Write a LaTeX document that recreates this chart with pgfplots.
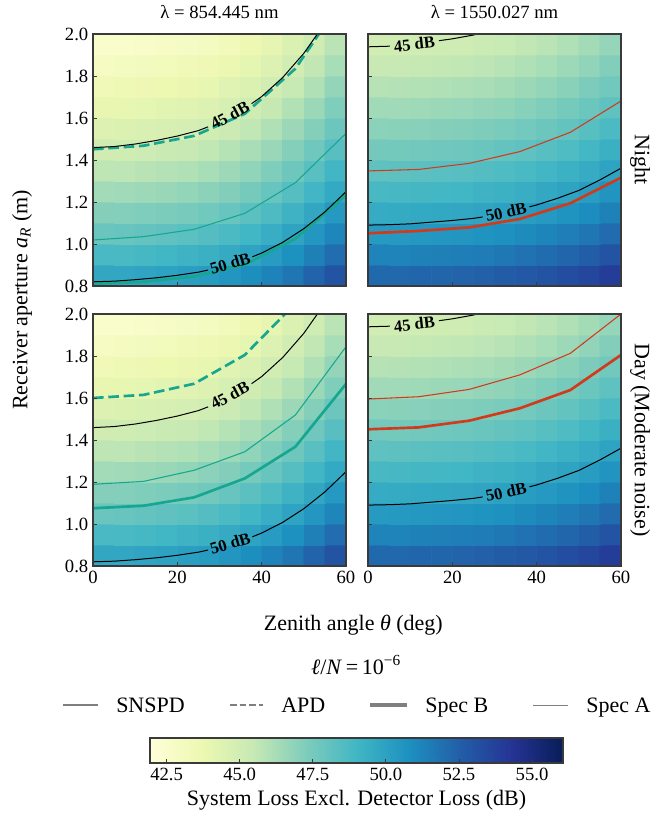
\documentclass[border=0pt]{standalone}
\usepackage{fontspec}
\setmainfont{Liberation Serif}
\usepackage{pgfplots}
\pgfplotsset{compat=1.18}
\usepackage{pgfplotstable}

\definecolor{specteal}{HTML}{17A68F}
\definecolor{specred}{HTML}{D13A1B}
\definecolor{frame}{HTML}{3A3A3A}
\definecolor{leggray}{HTML}{7F7F7F}

\newcommand\tickfont{\fontsize{14}{16}\selectfont}
\newcommand\labfont{\fontsize{16.5}{19}\selectfont}

% system loss excl. detector loss (dB), cells of 5 deg x 0.1 m
\pgfplotstableread[row sep=\\]{x y c\\
2.5 0.85 49.70\\ 7.5 0.85 49.74\\ 12.5 0.85 49.84\\ 17.5 0.85 49.95\\ 22.5 0.85 50.08\\ 27.5 0.85 50.26\\ 32.5 0.85 50.51\\ 37.5 0.85 50.83\\ 42.5 0.85 51.24\\ 47.5 0.85 51.74\\ 52.5 0.85 52.32\\ 57.5 0.85 52.99\\
2.5 0.95 48.74\\ 7.5 0.95 48.78\\ 12.5 0.95 48.88\\ 17.5 0.95 48.99\\ 22.5 0.95 49.12\\ 27.5 0.95 49.30\\ 32.5 0.95 49.55\\ 37.5 0.95 49.87\\ 42.5 0.95 50.28\\ 47.5 0.95 50.78\\ 52.5 0.95 51.36\\ 57.5 0.95 52.03\\
2.5 1.05 47.87\\ 7.5 1.05 47.91\\ 12.5 1.05 48.01\\ 17.5 1.05 48.12\\ 22.5 1.05 48.25\\ 27.5 1.05 48.43\\ 32.5 1.05 48.68\\ 37.5 1.05 49.00\\ 42.5 1.05 49.41\\ 47.5 1.05 49.91\\ 52.5 1.05 50.49\\ 57.5 1.05 51.16\\
2.5 1.15 47.08\\ 7.5 1.15 47.12\\ 12.5 1.15 47.22\\ 17.5 1.15 47.33\\ 22.5 1.15 47.46\\ 27.5 1.15 47.64\\ 32.5 1.15 47.89\\ 37.5 1.15 48.21\\ 42.5 1.15 48.62\\ 47.5 1.15 49.12\\ 52.5 1.15 49.70\\ 57.5 1.15 50.37\\
2.5 1.25 46.35\\ 7.5 1.25 46.39\\ 12.5 1.25 46.49\\ 17.5 1.25 46.60\\ 22.5 1.25 46.73\\ 27.5 1.25 46.91\\ 32.5 1.25 47.16\\ 37.5 1.25 47.48\\ 42.5 1.25 47.89\\ 47.5 1.25 48.39\\ 52.5 1.25 48.97\\ 57.5 1.25 49.64\\
2.5 1.35 45.68\\ 7.5 1.35 45.72\\ 12.5 1.35 45.82\\ 17.5 1.35 45.93\\ 22.5 1.35 46.06\\ 27.5 1.35 46.24\\ 32.5 1.35 46.49\\ 37.5 1.35 46.81\\ 42.5 1.35 47.22\\ 47.5 1.35 47.72\\ 52.5 1.35 48.30\\ 57.5 1.35 48.97\\
2.5 1.45 45.06\\ 7.5 1.45 45.10\\ 12.5 1.45 45.20\\ 17.5 1.45 45.31\\ 22.5 1.45 45.44\\ 27.5 1.45 45.62\\ 32.5 1.45 45.87\\ 37.5 1.45 46.19\\ 42.5 1.45 46.60\\ 47.5 1.45 47.10\\ 52.5 1.45 47.68\\ 57.5 1.45 48.35\\
2.5 1.55 44.48\\ 7.5 1.55 44.52\\ 12.5 1.55 44.62\\ 17.5 1.55 44.73\\ 22.5 1.55 44.86\\ 27.5 1.55 45.04\\ 32.5 1.55 45.29\\ 37.5 1.55 45.61\\ 42.5 1.55 46.02\\ 47.5 1.55 46.52\\ 52.5 1.55 47.10\\ 57.5 1.55 47.77\\
2.5 1.65 43.94\\ 7.5 1.65 43.98\\ 12.5 1.65 44.08\\ 17.5 1.65 44.19\\ 22.5 1.65 44.32\\ 27.5 1.65 44.50\\ 32.5 1.65 44.75\\ 37.5 1.65 45.07\\ 42.5 1.65 45.48\\ 47.5 1.65 45.98\\ 52.5 1.65 46.56\\ 57.5 1.65 47.23\\
2.5 1.75 43.43\\ 7.5 1.75 43.47\\ 12.5 1.75 43.57\\ 17.5 1.75 43.68\\ 22.5 1.75 43.81\\ 27.5 1.75 43.99\\ 32.5 1.75 44.24\\ 37.5 1.75 44.56\\ 42.5 1.75 44.97\\ 47.5 1.75 45.47\\ 52.5 1.75 46.05\\ 57.5 1.75 46.72\\
2.5 1.85 42.95\\ 7.5 1.85 42.99\\ 12.5 1.85 43.09\\ 17.5 1.85 43.20\\ 22.5 1.85 43.33\\ 27.5 1.85 43.51\\ 32.5 1.85 43.76\\ 37.5 1.85 44.08\\ 42.5 1.85 44.49\\ 47.5 1.85 44.99\\ 52.5 1.85 45.57\\ 57.5 1.85 46.24\\
2.5 1.95 42.49\\ 7.5 1.95 42.53\\ 12.5 1.95 42.63\\ 17.5 1.95 42.74\\ 22.5 1.95 42.87\\ 27.5 1.95 43.05\\ 32.5 1.95 43.30\\ 37.5 1.95 43.62\\ 42.5 1.95 44.03\\ 47.5 1.95 44.53\\ 52.5 1.95 45.11\\ 57.5 1.95 45.78\\
}\lossA

\pgfplotstableread[row sep=\\]{x y c\\
2.5 0.85 52.16\\ 7.5 0.85 52.19\\ 12.5 0.85 52.24\\ 17.5 0.85 52.30\\ 22.5 0.85 52.37\\ 27.5 0.85 52.47\\ 32.5 0.85 52.61\\ 37.5 0.85 52.79\\ 42.5 0.85 53.00\\ 47.5 0.85 53.24\\ 52.5 0.85 53.55\\ 57.5 0.85 53.91\\
2.5 0.95 51.20\\ 7.5 0.95 51.23\\ 12.5 0.95 51.28\\ 17.5 0.95 51.34\\ 22.5 0.95 51.41\\ 27.5 0.95 51.51\\ 32.5 0.95 51.65\\ 37.5 0.95 51.83\\ 42.5 0.95 52.04\\ 47.5 0.95 52.28\\ 52.5 0.95 52.59\\ 57.5 0.95 52.95\\
2.5 1.05 50.33\\ 7.5 1.05 50.36\\ 12.5 1.05 50.41\\ 17.5 1.05 50.47\\ 22.5 1.05 50.54\\ 27.5 1.05 50.64\\ 32.5 1.05 50.78\\ 37.5 1.05 50.96\\ 42.5 1.05 51.17\\ 47.5 1.05 51.41\\ 52.5 1.05 51.72\\ 57.5 1.05 52.08\\
2.5 1.15 49.54\\ 7.5 1.15 49.57\\ 12.5 1.15 49.62\\ 17.5 1.15 49.68\\ 22.5 1.15 49.75\\ 27.5 1.15 49.85\\ 32.5 1.15 49.99\\ 37.5 1.15 50.17\\ 42.5 1.15 50.38\\ 47.5 1.15 50.62\\ 52.5 1.15 50.93\\ 57.5 1.15 51.29\\
2.5 1.25 48.81\\ 7.5 1.25 48.84\\ 12.5 1.25 48.89\\ 17.5 1.25 48.95\\ 22.5 1.25 49.02\\ 27.5 1.25 49.12\\ 32.5 1.25 49.26\\ 37.5 1.25 49.44\\ 42.5 1.25 49.65\\ 47.5 1.25 49.89\\ 52.5 1.25 50.20\\ 57.5 1.25 50.56\\
2.5 1.35 48.14\\ 7.5 1.35 48.17\\ 12.5 1.35 48.22\\ 17.5 1.35 48.28\\ 22.5 1.35 48.35\\ 27.5 1.35 48.45\\ 32.5 1.35 48.59\\ 37.5 1.35 48.77\\ 42.5 1.35 48.98\\ 47.5 1.35 49.22\\ 52.5 1.35 49.53\\ 57.5 1.35 49.89\\
2.5 1.45 47.52\\ 7.5 1.45 47.55\\ 12.5 1.45 47.60\\ 17.5 1.45 47.66\\ 22.5 1.45 47.73\\ 27.5 1.45 47.83\\ 32.5 1.45 47.97\\ 37.5 1.45 48.15\\ 42.5 1.45 48.36\\ 47.5 1.45 48.60\\ 52.5 1.45 48.91\\ 57.5 1.45 49.27\\
2.5 1.55 46.94\\ 7.5 1.55 46.97\\ 12.5 1.55 47.02\\ 17.5 1.55 47.08\\ 22.5 1.55 47.15\\ 27.5 1.55 47.25\\ 32.5 1.55 47.39\\ 37.5 1.55 47.57\\ 42.5 1.55 47.78\\ 47.5 1.55 48.02\\ 52.5 1.55 48.33\\ 57.5 1.55 48.69\\
2.5 1.65 46.40\\ 7.5 1.65 46.43\\ 12.5 1.65 46.48\\ 17.5 1.65 46.54\\ 22.5 1.65 46.61\\ 27.5 1.65 46.71\\ 32.5 1.65 46.85\\ 37.5 1.65 47.03\\ 42.5 1.65 47.24\\ 47.5 1.65 47.48\\ 52.5 1.65 47.79\\ 57.5 1.65 48.15\\
2.5 1.75 45.89\\ 7.5 1.75 45.92\\ 12.5 1.75 45.97\\ 17.5 1.75 46.03\\ 22.5 1.75 46.10\\ 27.5 1.75 46.20\\ 32.5 1.75 46.34\\ 37.5 1.75 46.52\\ 42.5 1.75 46.73\\ 47.5 1.75 46.97\\ 52.5 1.75 47.28\\ 57.5 1.75 47.64\\
2.5 1.85 45.41\\ 7.5 1.85 45.44\\ 12.5 1.85 45.49\\ 17.5 1.85 45.55\\ 22.5 1.85 45.62\\ 27.5 1.85 45.72\\ 32.5 1.85 45.86\\ 37.5 1.85 46.04\\ 42.5 1.85 46.25\\ 47.5 1.85 46.49\\ 52.5 1.85 46.80\\ 57.5 1.85 47.16\\
2.5 1.95 44.95\\ 7.5 1.95 44.98\\ 12.5 1.95 45.03\\ 17.5 1.95 45.09\\ 22.5 1.95 45.16\\ 27.5 1.95 45.26\\ 32.5 1.95 45.40\\ 37.5 1.95 45.58\\ 42.5 1.95 45.79\\ 47.5 1.95 46.03\\ 52.5 1.95 46.34\\ 57.5 1.95 46.70\\
}\lossB

\pgfplotsset{
  /pgf/number format/assume math mode=true,
  colormap={ylgnbu}{rgb255=(255,255,217) rgb255=(237,248,177) rgb255=(199,233,180)
    rgb255=(127,205,187) rgb255=(65,182,196) rgb255=(29,145,192) rgb255=(34,94,168)
    rgb255=(37,52,148) rgb255=(8,29,88)},
  hm/.style={
    scale only axis, width=189.75pt, height=189pt, anchor=north west,
    xmin=0, xmax=60, ymin=0.8, ymax=2.0, enlargelimits=false,
    xtick={0,20,40,60}, ytick={0.8,1.0,1.2,1.4,1.6,1.8,2.0},
    xtick pos=bottom, ytick pos=left, tick align=inside, major tick length=3pt,
    tick style={frame, line width=0.6pt},
    axis line style={frame, line width=0.8pt},
    tick label style={font=\tickfont, text=black},
    yticklabel style={/pgf/number format/.cd, fixed, fixed zerofill, precision=1},
    colormap name=ylgnbu, point meta min=41.93, point meta max=56.06,
    axis on top,
  },
  heat/.style={matrix plot*, mesh/cols=12, point meta=explicit},
  contour/.style={black, line width=0.75pt, no marks},
  specA/.style={line width=0.8pt, no marks},
  specB/.style={line width=2pt, no marks},
  apd/.style={dash pattern=on 8pt off 3.5pt},
}
\tikzset{clab/.style={font=\fontsize{12.5}{14}\selectfont\bfseries, inner sep=0pt}}

\begin{document}
\begin{tikzpicture}
\useasboundingbox (0,0) rectangle (500.25pt,-612.75pt);

% ---- 854 nm, night
\begin{axis}[hm, at={(69.75pt,-25.5pt)}, xticklabels={}]
\addplot[heat] table[x=x, y=y, meta=c] {\lossA};
\addplot[specteal, specA] coordinates {(0,1.019) (12,1.035) (24,1.070) (36,1.146) (48,1.292) (60,1.527)};
\addplot[specteal, specB] coordinates {(0,0.810) (12,0.820) (24,0.845) (36,0.902) (48,1.025) (60,1.233)};
\addplot[specteal, specB, apd] coordinates {(0,1.451) (12,1.468) (24,1.515) (36,1.620) (48,1.835) (60,2.190)};
\addplot[contour] coordinates {(0,1.459) (5,1.464) (10,1.476) (15,1.493) (20,1.514) (25,1.540) (27.3,1.558)};
\addplot[contour] coordinates {(37.6,1.668) (40,1.702) (45,1.793) (50,1.908) (55,2.051)};
\addplot[contour] coordinates {(0,0.820) (5,0.823) (10,0.830) (15,0.839) (20,0.851) (25,0.866) (27.3,0.876)};
\addplot[contour] coordinates {(37.8,0.939) (40,0.957) (45,1.008) (50,1.073) (55,1.153) (60,1.249)};
\node[clab, rotate=28] at (axis cs:32.45,1.613) {45 dB};
\node[clab, rotate=16.6] at (axis cs:32.55,0.908) {50 dB};
\end{axis}

% ---- 1550 nm, night
\begin{axis}[hm, at={(276pt,-25.5pt)}, xticklabels={}, yticklabels={}]
\addplot[heat] table[x=x, y=y, meta=c] {\lossB};
\addplot[specred, specA] coordinates {(0,1.348) (12,1.355) (24,1.384) (36,1.440) (48,1.532) (60,1.681)};
\addplot[specred, specB] coordinates {(0,1.051) (12,1.062) (24,1.079) (36,1.119) (48,1.194) (60,1.316)};
\addplot[contour] coordinates {(0,1.939) (5.2,1.942)};
\addplot[contour] coordinates {(16.8,1.968) (20,1.977) (25,1.995) (30,2.023)};
\addplot[contour] coordinates {(0,1.090) (5,1.092) (10,1.096) (15,1.104) (20,1.112) (25,1.122) (27.2,1.129)};
\addplot[contour] coordinates {(38.3,1.177) (40,1.186) (45,1.218) (50,1.255) (55,1.305) (60,1.361)};
\node[clab, rotate=6.4] at (axis cs:11,1.952) {45 dB};
\node[clab, rotate=12.2] at (axis cs:32.75,1.153) {50 dB};
\end{axis}

% ---- 854 nm, day
\begin{axis}[hm, at={(69.75pt,-235.5pt)}]
\addplot[heat] table[x=x, y=y, meta=c] {\lossA};
\addplot[specteal, specA] coordinates {(0,1.189) (12,1.203) (24,1.256) (36,1.344) (48,1.519) (60,1.844)};
\addplot[specteal, specB] coordinates {(0,1.075) (12,1.087) (24,1.127) (36,1.217) (48,1.368) (60,1.667)};
\addplot[specteal, specB, apd] coordinates {(0,1.600) (12,1.615) (24,1.668) (36,1.805) (48,2.050) (60,2.450)};
\addplot[contour] coordinates {(0,1.459) (5,1.464) (10,1.476) (15,1.493) (20,1.514) (25,1.540) (27.3,1.558)};
\addplot[contour] coordinates {(37.6,1.668) (40,1.702) (45,1.793) (50,1.908) (55,2.051)};
\addplot[contour] coordinates {(0,0.820) (5,0.823) (10,0.830) (15,0.839) (20,0.851) (25,0.866) (27.3,0.876)};
\addplot[contour] coordinates {(37.8,0.939) (40,0.957) (45,1.008) (50,1.073) (55,1.153) (60,1.249)};
\node[clab, rotate=28] at (axis cs:32.45,1.613) {45 dB};
\node[clab, rotate=16.6] at (axis cs:32.55,0.908) {50 dB};
\end{axis}

% ---- 1550 nm, day
\begin{axis}[hm, at={(276pt,-235.5pt)}, yticklabels={}]
\addplot[heat] table[x=x, y=y, meta=c] {\lossB};
\addplot[specred, specA] coordinates {(0,1.595) (12,1.606) (24,1.641) (36,1.710) (48,1.813) (60,2.000)};
\addplot[specred, specB] coordinates {(0,1.451) (12,1.460) (24,1.492) (36,1.551) (48,1.638) (60,1.805)};
\addplot[contour] coordinates {(0,1.939) (5.2,1.942)};
\addplot[contour] coordinates {(16.8,1.968) (20,1.977) (25,1.995) (30,2.023)};
\addplot[contour] coordinates {(0,1.090) (5,1.092) (10,1.096) (15,1.104) (20,1.112) (25,1.122) (27.2,1.129)};
\addplot[contour] coordinates {(38.3,1.177) (40,1.186) (45,1.218) (50,1.255) (55,1.305) (60,1.361)};
\node[clab, rotate=6.4] at (axis cs:11,1.952) {45 dB};
\node[clab, rotate=12.2] at (axis cs:32.75,1.153) {50 dB};
\end{axis}

% ---- colorbar
\begin{axis}[scale only axis, at={(112.5pt,-553.5pt)}, anchor=north west,
    width=309.75pt, height=18.75pt, xmin=41.93, xmax=56.06, ymin=0, ymax=1,
    enlargelimits=false, ytick=\empty, xtick={42.5,45,47.5,50,52.5,55},
    xtick pos=bottom, tick align=inside, major tick length=3pt,
    tick style={frame, line width=0.6pt}, axis line style={frame, line width=0.8pt},
    tick label style={font=\tickfont, text=black},
    xticklabel style={/pgf/number format/.cd, fixed, fixed zerofill, precision=1},
    colormap name=ylgnbu, point meta min=41.93, point meta max=56.06, axis on top]
\addplot[surf, shader=interp, mesh/cols=9, point meta=x] coordinates {
  (41.93,0) (43.70,0) (45.46,0) (47.23,0) (49.00,0) (50.76,0) (52.53,0) (54.29,0) (56.06,0)
  (41.93,1) (43.70,1) (45.46,1) (47.23,1) (49.00,1) (50.76,1) (52.53,1) (54.29,1) (56.06,1)};
\end{axis}

% ---- titles and labels
\node[font=\tickfont] at (164.6pt,-9pt) {λ = 854.445 nm};
\node[font=\tickfont] at (370.9pt,-9pt) {λ = 1550.027 nm};
\node[font=\labfont, rotate=90] at (16.5pt,-225pt) {Receiver aperture \textit{a}\textsubscript{\textit{R}} (m)};
\node[font=\labfont] at (265pt,-468.75pt) {Zenith angle \textit{θ} (deg)};
\node[font=\labfont, rotate=-90] at (480pt,-120pt) {Night};
\node[font=\labfont, rotate=-90] at (480pt,-330pt) {Day (Moderate noise)};

% ---- legend
\node[font=\labfont] at (267pt,-498.75pt) {\textit{ℓ}/\textit{N}\,=\,10\textsuperscript{−6}};
\draw[leggray, line width=1.4pt] (47.25pt,-528.75pt) -- (73.5pt,-528.75pt);
\node[font=\labfont, anchor=base west, inner sep=0pt] at (87pt,-534pt) {SNSPD};
\draw[leggray, line width=1.4pt, dash pattern=on 5pt off 2.3pt] (172.5pt,-528.75pt) -- (197.25pt,-528.75pt);
\node[font=\labfont, anchor=base west, inner sep=0pt] at (210.75pt,-534pt) {APD};
\draw[leggray, line width=2.3pt] (277.5pt,-528.75pt) -- (305.25pt,-528.75pt);
\node[font=\labfont, anchor=base west, inner sep=0pt] at (318.75pt,-534pt) {Spec B};
\draw[leggray, line width=0.75pt] (399.75pt,-528.75pt) -- (426pt,-528.75pt);
\node[font=\labfont, anchor=base west, inner sep=0pt] at (439.5pt,-534pt) {Spec A};

\node[font=\labfont] at (267.4pt,-600pt) {System Loss Excl. Detector Loss (dB)};
\end{tikzpicture}
\end{document}
